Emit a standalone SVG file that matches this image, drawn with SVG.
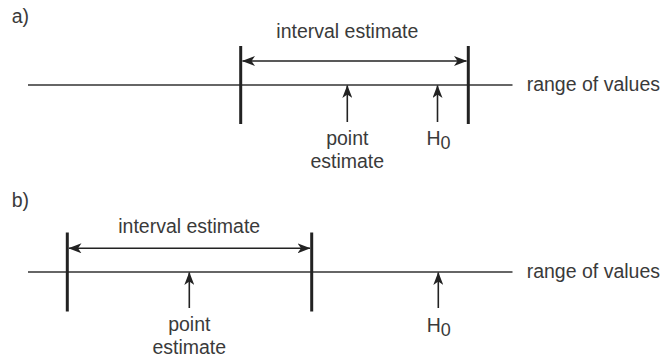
<svg xmlns="http://www.w3.org/2000/svg" width="662" height="359" viewBox="0 0 662 359">
<style>
text{font-family:"Liberation Sans",Arial,sans-serif;font-size:19.5px;fill:#3a3a3a}
.c{text-anchor:middle}
.ln{stroke:#333;stroke-width:1.6;fill:none}
.bar{stroke:#222;stroke-width:3;fill:none}
.ar{stroke:#222;stroke-width:1.6;fill:none}
</style>
<defs>
<marker id="ah" markerUnits="userSpaceOnUse" viewBox="0 0 13 10" refX="12.5" refY="5" markerWidth="13" markerHeight="10" orient="auto-start-reverse">
<path d="M0,0 L13,5 L0,10 L3.5,5 Z" fill="#222"/>
</marker>
</defs>
<g id="panel-a">
<text x="11.7" y="23">a)</text>
<line class="ln" x1="28" y1="85" x2="512.5" y2="85"/>
<g id="a-bars">
<line class="bar" x1="240.7" y1="46" x2="240.7" y2="124"/>
<line class="bar" x1="468.3" y1="46" x2="468.3" y2="124"/>
</g>
<g id="a-interval">
<line class="ar" x1="242.5" y1="61" x2="466.5" y2="61" marker-start="url(#ah)" marker-end="url(#ah)"/>
<text class="c" x="347.3" y="38.3">interval estimate</text>
</g>
<text x="526.7" y="91">range of values</text>
<g id="a-point">
<line class="ar" x1="347.3" y1="122" x2="347.3" y2="85.5" marker-end="url(#ah)"/>
<text class="c" x="347.3" y="145">point</text>
<text class="c" x="347.3" y="168.3">estimate</text>
</g>
<g id="a-h0">
<line class="ar" x1="437.5" y1="122" x2="437.5" y2="85.5" marker-end="url(#ah)"/>
<text x="426.5" y="145">H<tspan dy="4" font-size="18">0</tspan></text>
</g>
</g>
<g id="panel-b">
<text x="11.7" y="206.5">b)</text>
<line class="ln" x1="28" y1="272" x2="512.5" y2="272"/>
<g id="b-bars">
<line class="bar" x1="67.3" y1="232.5" x2="67.3" y2="311.5"/>
<line class="bar" x1="311.7" y1="232.5" x2="311.7" y2="311.5"/>
</g>
<g id="b-interval">
<line class="ar" x1="69" y1="248.3" x2="310" y2="248.3" marker-start="url(#ah)" marker-end="url(#ah)"/>
<text class="c" x="189.2" y="233.3">interval estimate</text>
</g>
<text x="526.7" y="278">range of values</text>
<g id="b-point">
<line class="ar" x1="189.3" y1="308" x2="189.3" y2="272.5" marker-end="url(#ah)"/>
<text class="c" x="189.3" y="331">point</text>
<text class="c" x="189.3" y="354.3">estimate</text>
</g>
<g id="b-h0">
<line class="ar" x1="438.3" y1="308" x2="438.3" y2="272.5" marker-end="url(#ah)"/>
<text x="426.7" y="331.7">H<tspan dy="4" font-size="18">0</tspan></text>
</g>
</g>
</svg>
